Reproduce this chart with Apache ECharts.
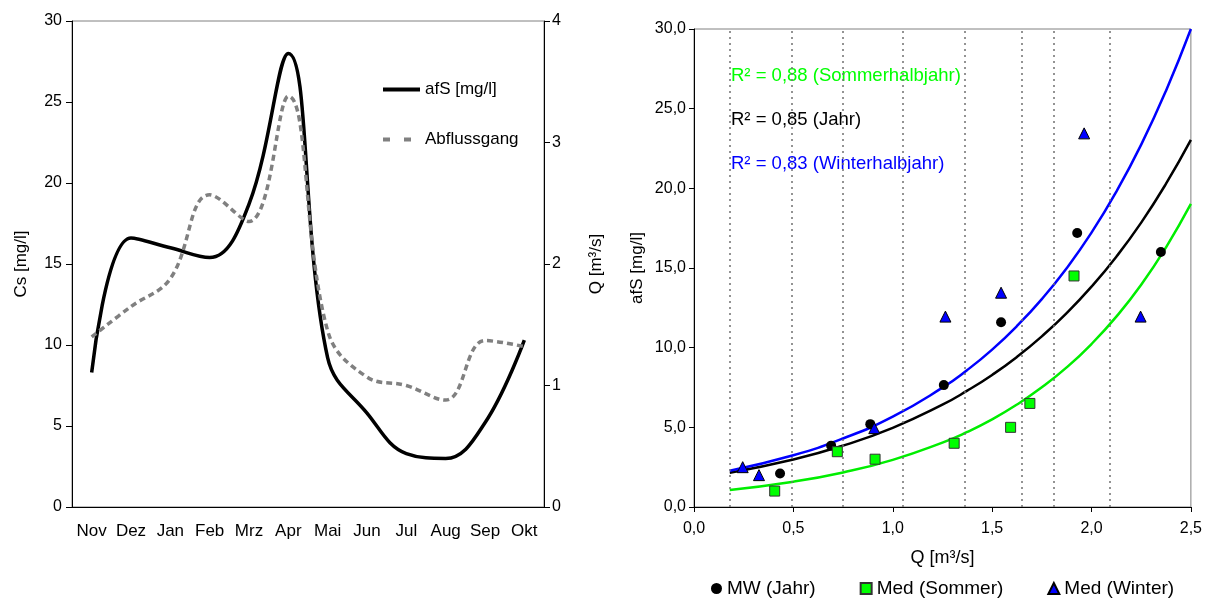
<!DOCTYPE html>
<html>
<head>
<meta charset="utf-8">
<script src="https://cdn.jsdelivr.net/npm/echarts@6/dist/echarts.min.js"></script>
<style>
  html, body { margin: 0; padding: 0; background: #fff; }
  #chart { width: 1205px; height: 599px; }
</style>
</head>
<body>
<div id="chart"></div>
<script>
// left: Jahresgang
const months = ['Nov', 'Dez', 'Jan', 'Feb', 'Mrz', 'Apr', 'Mai', 'Jun', 'Jul', 'Aug', 'Sep', 'Okt'];
const afS = [8.3, 16.6, 16.0, 15.4, 18.7, 28.0, 9.2, 5.8, 3.3, 3.0, 5.2, 10.3];
const abfluss = [1.40, 1.65, 1.88, 2.57, 2.35, 3.38, 1.45, 1.07, 1.00, 0.88, 1.37, 1.32];

// right: afS against Q
const mwJahr = [[0.433, 2.1], [0.69, 3.85], [0.887, 5.2], [1.257, 7.65], [1.545, 11.6], [1.928, 17.2], [2.349, 16.0]];
const medSommer = [[0.406, 1.0], [0.721, 3.47], [0.911, 3.0], [1.309, 4.0], [1.593, 5.0], [1.69, 6.5], [1.912, 14.5]];
const medWinter = [[0.245, 2.5], [0.327, 2.0], [0.907, 4.95], [1.265, 11.95], [1.545, 13.45], [1.963, 23.45], [2.247, 11.95]];

// trend curves
const trendQ = [0.18, 0.5, 0.75, 1.0, 1.25, 1.375, 1.5, 1.625, 1.75, 1.875, 2.0, 2.125, 2.25, 2.375, 2.5];
const trendJahr = [2.15, 2.98, 3.85, 4.97, 6.42, 7.30, 8.29, 9.42, 10.71, 12.17, 13.83, 15.71, 17.85, 20.29, 23.04];
const trendSommer = [1.07, 1.59, 2.17, 2.96, 4.04, 4.71, 5.50, 6.43, 7.51, 8.76, 10.23, 11.95, 13.95, 16.30, 19.02];
const trendWinter = [2.28, 3.25, 4.30, 5.67, 7.49, 8.60, 9.88, 11.36, 13.05, 14.99, 17.22, 19.79, 22.74, 26.13, 30.0];

// dotted class borders
const classQ = [0.182, 0.488, 0.752, 1.054, 1.361, 1.653, 1.813, 2.094];

const labelsR2 = [
  { text: 'R² = 0,88 (Sommerhalbjahr)', color: '#00ff00' },
  { text: 'R² = 0,85 (Jahr)', color: '#000000' },
  { text: 'R² = 0,83 (Winterhalbjahr)', color: '#0000ff' }
];

const font = 'Liberation Sans, Arial, sans-serif';
const comma = v => v.toFixed(1).replace('.', ',');
const pairs = ys => trendQ.map((q, i) => [q, ys[i]]);

const chart = echarts.init(document.getElementById('chart'));
const black = { lineStyle: { color: '#000', width: 1 } };

const option = {
  animation: false,
  textStyle: { fontFamily: font, color: '#000' },
  grid: [
    { left: 72, top: 21, width: 472, height: 486, show: true, borderColor: '#808080', borderWidth: 1 },
    { left: 694, top: 29, width: 498, height: 478, show: true, borderColor: '#808080', borderWidth: 1 }
  ],
  legend: [
    {
      orient: 'vertical', left: 381, top: 81, padding: 0, itemWidth: 37, itemHeight: 14, itemGap: 33,
      data: [
        'afS [mg/l]',
        { name: 'Abflussgang', lineStyle: { type: [7, 14] } }
      ],
      itemStyle: { opacity: 0 },
      lineStyle: { width: 4 },
      textStyle: { fontSize: 17, color: '#000', fontFamily: font }
    },
    {
      left: 711, top: 579, padding: 0, itemWidth: 11, itemHeight: 11, itemGap: 44,
      data: [
        { name: 'MW (Jahr)', icon: 'circle' },
        { name: 'Med (Sommer)', icon: 'rect' },
        { name: 'Med (Winter)', icon: 'triangle' }
      ],
      textStyle: { fontSize: 19, color: '#000', fontFamily: font }
    }
  ],
  xAxis: [
    {
      type: 'category', gridIndex: 0, data: months, boundaryGap: true,
      axisLine: black, axisTick: { length: 5, lineStyle: { color: '#000' } },
      axisLabel: { fontSize: 17, color: '#000', margin: 16, interval: 0 }
    },
    {
      type: 'value', gridIndex: 1, min: 0, max: 2.5, interval: 0.5,
      name: 'Q [m³/s]', nameLocation: 'middle', nameGap: 42,
      nameTextStyle: { fontSize: 18, color: '#000' },
      axisLine: black, axisTick: { length: 5, lineStyle: { color: '#000' } },
      axisLabel: { fontSize: 16, color: '#000', margin: 14, formatter: comma },
      splitLine: { show: false }
    }
  ],
  yAxis: [
    {
      type: 'value', gridIndex: 0, min: 0, max: 30, interval: 5,
      name: 'Cs [mg/l]', nameLocation: 'middle', nameGap: 42, nameRotate: 90,
      nameTextStyle: { fontSize: 17, color: '#000' },
      axisLine: { show: true, lineStyle: { color: '#000' } },
      axisTick: { show: true, length: 6, lineStyle: { color: '#000' } },
      axisLabel: { fontSize: 16, color: '#000', margin: 10 },
      splitLine: { show: false }
    },
    {
      type: 'value', gridIndex: 0, position: 'right', min: 0, max: 4, interval: 1,
      name: 'Q [m³/s]', nameLocation: 'middle', nameGap: 44, nameRotate: 90,
      nameTextStyle: { fontSize: 17, color: '#000' },
      axisLine: { show: true, lineStyle: { color: '#000' } },
      axisTick: { show: true, length: 6, lineStyle: { color: '#000' } },
      axisLabel: { fontSize: 16, color: '#000', margin: 8 },
      splitLine: { show: false }
    },
    {
      type: 'value', gridIndex: 1, min: 0, max: 30, interval: 5,
      name: 'afS [mg/l]', nameLocation: 'middle', nameGap: 48, nameRotate: 90,
      nameTextStyle: { fontSize: 17, color: '#000' },
      axisLine: { show: true, lineStyle: { color: '#000' } },
      axisTick: { show: true, length: 5, lineStyle: { color: '#000' } },
      axisLabel: { fontSize: 16, color: '#000', margin: 8, formatter: comma },
      splitLine: { show: false }
    }
  ],
  graphic: labelsR2.map((l, i) => ({
    type: 'text', left: 731, top: 66 + i * 44,
    style: { text: l.text, fill: l.color, font: '18.5px ' + font }
  })),
  series: [
    {
      name: 'afS [mg/l]', type: 'line', xAxisIndex: 0, yAxisIndex: 0,
      data: afS, smooth: 0.4, symbol: 'none',
      lineStyle: { color: '#000', width: 3.5 }, itemStyle: { color: '#000' }
    },
    {
      name: 'Abflussgang', type: 'line', xAxisIndex: 0, yAxisIndex: 1,
      data: abfluss, smooth: 0.4, symbol: 'none',
      lineStyle: { color: '#808080', width: 3.5, type: [6, 4] }, itemStyle: { color: '#808080' }
    },
    {
      name: 'Klassen', type: 'line', xAxisIndex: 1, yAxisIndex: 2, data: [],
      markLine: {
        silent: true, symbol: 'none', label: { show: false },
        lineStyle: { color: '#707070', width: 1.5, type: [2, 4] },
        data: classQ.map(q => ({ xAxis: q }))
      }
    },
    {
      name: 'Trend Sommer', type: 'line', xAxisIndex: 1, yAxisIndex: 2,
      data: pairs(trendSommer), smooth: true, symbol: 'none',
      lineStyle: { color: '#00ee00', width: 2.5 }
    },
    {
      name: 'Trend Jahr', type: 'line', xAxisIndex: 1, yAxisIndex: 2,
      data: pairs(trendJahr), smooth: true, symbol: 'none',
      lineStyle: { color: '#000', width: 2.5 }
    },
    {
      name: 'Trend Winter', type: 'line', xAxisIndex: 1, yAxisIndex: 2,
      data: pairs(trendWinter), smooth: true, symbol: 'none',
      lineStyle: { color: '#0000ff', width: 2.5 }
    },
    {
      name: 'MW (Jahr)', type: 'scatter', xAxisIndex: 1, yAxisIndex: 2, z: 5,
      data: mwJahr, symbol: 'circle', symbolSize: 10,
      itemStyle: { color: '#000', opacity: 1 }
    },
    {
      name: 'Med (Sommer)', type: 'scatter', xAxisIndex: 1, yAxisIndex: 2, z: 5,
      data: medSommer, symbol: 'rect', symbolSize: 10,
      itemStyle: { color: '#00ff00', borderColor: '#333', borderWidth: 1, opacity: 1 }
    },
    {
      name: 'Med (Winter)', type: 'scatter', xAxisIndex: 1, yAxisIndex: 2, z: 5,
      data: medWinter, symbol: 'triangle', symbolSize: 11,
      itemStyle: { color: '#0000ff', borderColor: '#000', borderWidth: 1, opacity: 1 }
    }
  ]
};

chart.setOption(option);
</script>
</body>
</html>
